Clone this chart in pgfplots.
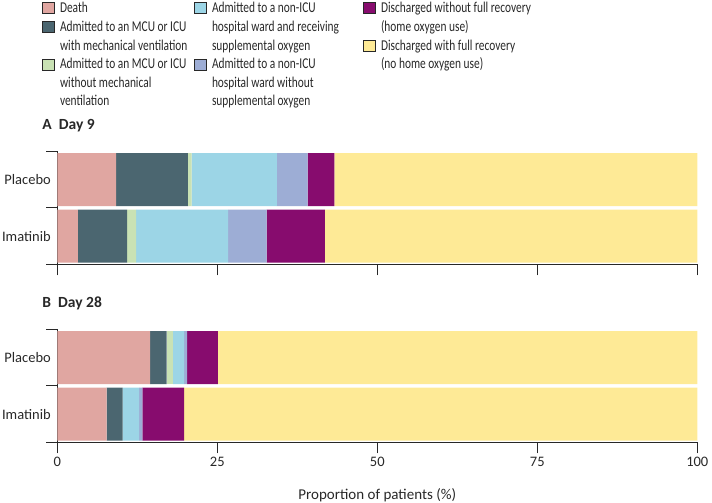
\documentclass[border=0pt]{standalone}
\usepackage{fontspec}
\setmainfont{Carlito}
\newfontfamily\legfont[FakeStretch=0.76]{Carlito}
\usepackage{pgfplots}
\pgfplotsset{compat=1.18}

\definecolor{cDeath}{RGB}{224,166,161}
\definecolor{cMV}{RGB}{75,102,112}
\definecolor{cNoMV}{RGB}{201,226,180}
\definecolor{cOx}{RGB}{156,213,230}
\definecolor{cNoOx}{RGB}{157,173,213}
\definecolor{cDis}{RGB}{135,12,110}
\definecolor{cFull}{RGB}{254,234,150}
\definecolor{ink}{RGB}{40,40,40}

\newcommand{\la}[1]{\makebox[134bp][l]{#1}}
\newcommand{\lb}[1]{\makebox[151bp][l]{#1}}
\newcommand{\lc}[1]{\makebox[180bp][l]{#1}}

\pgfplotsset{
  legpatch/.style={legend image code/.code={
      \draw[##1, draw=ink, line width=0.9bp] (0.5bp,-1bp) rectangle (12.5bp,10bp);
      \path[draw=none, fill=none] (0bp,0bp) -- (18bp,0bp);}},
  panel/.style={
    scale only axis, width=640bp, height=113bp,
    xmin=0, xmax=100, ymin=-0.5, ymax=1.5,
    xbar stacked, bar width=53bp,
    axis x line*=bottom, axis y line*=left,
    axis line style={ink, line width=0.9bp},
    tick align=outside,
    major tick length=11bp,
    tick style={ink, line width=0.9bp},
    xtick={0,25,50,75,100},
    ytick={-0.5,0.5,1.5}, yticklabels={},
    extra y ticks={0,1},
    extra y tick labels={Imatinib,Placebo},
    extra y tick style={major tick length=0pt, yticklabel style={xshift=-3bp}},
    ticklabel style={font=\fontsize{14.5bp}{16bp}\selectfont, text=ink},
    /pgf/number format/assume math mode=true,
    title style={at={(0,1)}, anchor=base west, xshift=-15bp, yshift=16bp,
      inner sep=0pt, font=\fontsize{15.5bp}{18bp}\selectfont\bfseries, text=ink},
  },
}

\begin{document}
\begin{tikzpicture}
\useasboundingbox (0,0) rectangle (712bp,503bp);

% Panel A: day 9
\begin{axis}[panel,
    at={(57.3bp,238.7bp)}, anchor=south west,
    xticklabels={},
    title={A\hspace{7bp}Day 9},
    legend columns=3,
    legend style={draw=none, fill=none, at={(-0.0239,2.3239)}, anchor=north west,
      inner sep=0pt, outer sep=0pt, column sep=0pt, row sep=5.5bp,
      font=\legfont\fontsize{15bp}{16bp}\selectfont, text=ink,
      nodes={inner sep=0pt, outer sep=0pt, text height=10bp, text depth=3bp, anchor=base west}},
  ]
\addlegendimage{legpatch, fill=cDeath}\addlegendentry{\la{Death}}
\addlegendimage{legpatch, fill=cOx}\addlegendentry{\lb{Admitted to a non-ICU}}
\addlegendimage{legpatch, fill=cDis}\addlegendentry{\lc{Discharged without full recovery}}
\addlegendimage{legpatch, fill=cMV}\addlegendentry{\la{Admitted to an MCU or ICU}}
\addlegendimage{empty legend}\addlegendentry{\lb{hospital ward and receiving}}
\addlegendimage{empty legend}\addlegendentry{\lc{(home oxygen use)}}
\addlegendimage{empty legend}\addlegendentry{\la{with mechanical ventilation}}
\addlegendimage{empty legend}\addlegendentry{\lb{supplemental oxygen}}
\addlegendimage{legpatch, fill=cFull}\addlegendentry{\lc{Discharged with full recovery}}
\addlegendimage{legpatch, fill=cNoMV}\addlegendentry{\la{Admitted to an MCU or ICU}}
\addlegendimage{legpatch, fill=cNoOx}\addlegendentry{\lb{Admitted to a non-ICU}}
\addlegendimage{empty legend}\addlegendentry{\lc{(no home oxygen use)}}
\addlegendimage{empty legend}\addlegendentry{\la{without mechanical}}
\addlegendimage{empty legend}\addlegendentry{\lb{hospital ward without}}
\addlegendimage{empty legend}\addlegendentry{\lc{\mbox{}}}
\addlegendimage{empty legend}\addlegendentry{\la{ventilation}}
\addlegendimage{empty legend}\addlegendentry{\lb{supplemental oxygen}}

% y=1 Placebo, y=0 Imatinib
\addplot[forget plot, fill=cDeath, draw=none] coordinates {(9.2,1) (3.2,0)};
\addplot[forget plot, fill=cMV, draw=none]    coordinates {(11.2,1) (7.7,0)};
\addplot[forget plot, fill=cNoMV, draw=none]  coordinates {(0.6,1) (1.4,0)};
\addplot[forget plot, fill=cOx, draw=none]    coordinates {(13.3,1) (14.4,0)};
\addplot[forget plot, fill=cNoOx, draw=none]  coordinates {(4.8,1) (6.0,0)};
\addplot[forget plot, fill=cDis, draw=none]   coordinates {(4.2,1) (9.1,0)};
\addplot[forget plot, fill=cFull, draw=none]  coordinates {(56.7,1) (58.2,0)};
\end{axis}

% Panel B: day 28
\begin{axis}[panel,
    at={(57.3bp,60.7bp)}, anchor=south west,
    title={B\hspace{7bp}Day 28},
    xlabel={Proportion of patients (\%)},
    xlabel style={at={(0.5,0)}, anchor=base, yshift=-56.7bp,
      font=\fontsize{15bp}{17bp}\selectfont, text=ink},
  ]
\addplot[fill=cDeath, draw=none] coordinates {(14.5,1) (7.7,0)};
\addplot[fill=cMV, draw=none]    coordinates {(2.6,1) (2.5,0)};
\addplot[fill=cNoMV, draw=none]  coordinates {(1.0,1) (0.0,0)};
\addplot[fill=cOx, draw=none]    coordinates {(1.7,1) (2.6,0)};
\addplot[fill=cNoOx, draw=none]  coordinates {(0.5,1) (0.5,0)};
\addplot[fill=cDis, draw=none]   coordinates {(4.8,1) (6.5,0)};
\addplot[fill=cFull, draw=none]  coordinates {(74.9,1) (80.2,0)};
\end{axis}
\end{tikzpicture}
\end{document}
